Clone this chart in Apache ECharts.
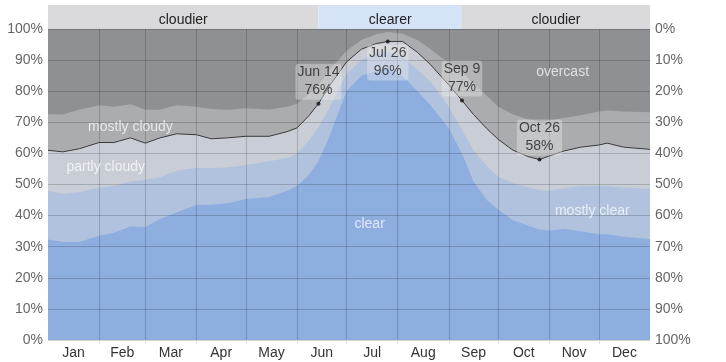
<!DOCTYPE html>
<html><head><meta charset="utf-8">
<script src="https://cdn.jsdelivr.net/npm/echarts@6/dist/echarts.min.js"></script>
<style>html,body{margin:0;padding:0;background:#fff}#c{width:726px;height:362px}</style>
</head><body><div id="c"></div>
<script>
// day of year (Jan 1 = 0)
const days         = [0,   9,   19,  31,  40,  50,  59,  68,  78,  90,  99,  109, 120, 134, 145, 151, 158, 164, 171, 181, 190, 199, 206, 215, 224, 232, 243, 251, 258, 266, 273, 282, 291, 298, 304, 313, 323, 334, 339, 349, 365];
// % of time in each cloud-cover category
const clear        = [32.3,31.5,31.5,33.5,34.5,36.5,36.3,39,  41,  43.5,43.5,44,  45.3,46,  48,  49.5,53,  57.5,66,  80,  85,  86.5,87,  85,  80,  75.5,68,  60,  51,  45,  42,  38.5,36.8,35.5,35.2,35.7,35,  34,  34,  33.2,32.5];
const mostlyClear  = [15.7,15.5,16,  15.5,15,  14.5,15.2,13.3,13.5,11.8,11.8,11.5,11,  11.5,10.5,10.5,11,  11,  9,   5.5, 5,   5.5, 5.5, 6,   7,   7.5, 7,   7.5, 10,  11,  10.5,12,  12.2,12.7,12.8,13.1,14.5,15.5,15.5,15.8,16.1];
const partlyCloudy = [13,  13.5,14,  14.5,14,  14,  11.8,12.7,11.8,10.7,9.4, 9.5, 9.2, 8,   8.5, 8.2, 8,   7.5, 7,   3.9, 3.5, 3.3, 3.5, 5,   5.5, 5.5, 7,   9.5, 11.5,12,  12,  10.5,10,  9.8, 11.2,12,  12.5,13.2,13.8,13,  12.7];
const mostlyCloudy = [11.6,12,  12.5,12,  11.5,10.8,10.7,9,   9.2, 9,   9.6, 9,   9,   8.6, 8,   7.8, 7,   6,   5,   3.6, 3,   3,   3,   2.5, 4,   5,   7,   9,   10,  10.5,10.5,11.5,12,  12.2,11.3,10.7,10.3,10.8,10.5,11.5,11.9];
const overcast     = [27.4,27.5,26,  24.5,25,  24.2,26,  26,  24.5,25,  25.7,26,  25.5,25.9,25,  24,  21,  18,  13,  7,   3.5, 1.7, 1,   1.5, 3.5, 6.5, 11,  14,  17.5,21.5,25,  27.5,29,  29.8,29.5,28.5,27.7,26.5,26.2,26.5,26.8];

const monthNames  = ['Jan','Feb','Mar','Apr','May','Jun','Jul','Aug','Sep','Oct','Nov','Dec'];
const monthStarts = [0,31,59,90,120,151,181,212,243,273,304,334,365];
const leftTicks   = ['0%','10%','20%','30%','40%','50%','60%','70%','80%','90%','100%'];

const seasonStarts = [0,164,251];
const seasonEnds   = [164,251,365];
const seasonLabels = ['cloudier','clearer','cloudier'];

const annDays  = [164,206,251,298];
const annText  = ['Jun 14','Jul 26','Sep 9','Oct 26'];
const annPos   = ['top','bottom','top','top'];

const areaLabelDays = [312, 50, 35, 195, 330];
const areaLabelPcts = [86, 68.5, 55.6, 37.3, 41.5];
const areaLabelText = ['overcast','mostly cloudy','partly cloudy','clear','mostly clear'];

const FONT = 'Arial, "Liberation Sans", sans-serif';
const layers = [clear, mostlyClear, partlyCloudy, mostlyCloudy, overcast];
// cumulative tops of each layer
const cum = layers.map((_,k)=>days.map((d,i)=>{let s=0; for(let j=0;j<=k;j++) s+=layers[j][i]; return +s.toFixed(2);}));
const lineVals = cum[2];
const monthMids = monthNames.map((m,i)=>(monthStarts[i]+monthStarts[i+1])/2);

const layerColors = ['#8eaee0','#b1c2de','#c9ced6','#abacaf','#8f9094'];
const areaSeriesList = [4,3,2,1,0].map((k)=>({type:'line', data: days.map((d,i)=>[d, cum[k][i]]),
    symbol:'none', lineStyle:{width:0}, areaStyle:{color: layerColors[k], opacity:1, origin:'start'}, z:2, silent:true}));

const chart = echarts.init(document.getElementById('c'), null, {renderer:'canvas'});
chart.setOption({
  animation:false,
  backgroundColor:'#fff',
  grid:[
    {left:48, right:76, top:29, bottom:22},
    {left:48, right:76, top:5, height:24}
  ],
  xAxis:[
    {type:'value', gridIndex:0, min:0, max:365, z:3,
      axisLine:{show:false},
      axisTick:{show:true, customValues: monthStarts.slice(1,12), length:4, lineStyle:{color:'#e2e2e2'}},
      splitLine:{show:true, lineStyle:{color:'rgba(0,0,0,0.18)', width:1}},
      axisLabel:{customValues: monthMids, color:'#333', fontSize:14, fontFamily:FONT, margin:6,
        formatter:(v)=>{const i=monthMids.indexOf(v); return i>=0?monthNames[i]:'';}}
    },
    {type:'value', gridIndex:1, min:0, max:365, show:false}
  ],
  yAxis:[
    {type:'value', gridIndex:0, min:0, max:100, interval:10, z:3, position:'left',
      axisLine:{show:false}, axisTick:{show:false},
      splitLine:{show:true, lineStyle:{color:'rgba(0,0,0,0.18)', width:1}},
      axisLabel:{color:'#666', fontSize:14, fontFamily:FONT, margin:5, formatter:(v)=>leftTicks[Math.round(v/10)]}
    },
    {type:'value', gridIndex:0, min:0, max:100, interval:10, inverse:true, position:'right',
      axisLine:{show:false}, axisTick:{show:false}, splitLine:{show:false},
      axisLabel:{color:'#666', fontSize:14, fontFamily:FONT, margin:5, formatter:(v)=>leftTicks[Math.round(v/10)]}
    },
    {type:'value', gridIndex:1, min:0, max:1, show:false}
  ],
  series:[
    ...areaSeriesList,
    {type:'line', data: days.map((d,i)=>[d, lineVals[i]]), symbol:'none',
      lineStyle:{color:'#3a3a3a', width:1}, z:4, silent:true},
    {type:'scatter', data: areaLabelDays.map((d,i)=>[d, areaLabelPcts[i]]), symbolSize:0, z:5, silent:true,
      label:{show:true, position:'inside', color:'rgba(255,255,255,0.9)', fontSize:14, fontFamily:FONT,
        formatter:(p)=>areaLabelText[p.dataIndex]}},
    {type:'scatter', data: annDays.map((d,i)=>({value:[d, lineVals[days.indexOf(d)]],
        label:{position: annPos[i], distance: annPos[i]==='top' ? 2 : 1}})),
      symbol:'circle', symbolSize:4, itemStyle:{color:'#111'}, z:6, silent:true,
      label:{show:true, color:'#222', fontSize:14, fontFamily:FONT, lineHeight:18, align:'center',
        backgroundColor:'rgba(235,235,235,0.5)', borderRadius:3, padding:[0,2],
        formatter:(p)=>annText[p.dataIndex]+'\n'+Math.round(p.value[1])+'%'}},
    {type:'custom', xAxisIndex:1, yAxisIndex:2, z:2, silent:true,
      data: seasonStarts.map((s,i)=>[s, seasonEnds[i], i]),
      encode:{x:[0,1]},
      renderItem:(params, api)=>{
        const i = api.value(2);
        const p0 = api.coord([api.value(0), 1]);
        const p1 = api.coord([api.value(1), 0]);
        return {type:'group', children:[
          {type:'rect', shape:{x:p0[0], y:p0[1], width:p1[0]-p0[0], height:p1[1]-p0[1]},
            style:{fill: seasonLabels[i]==='clearer' ? '#d5e3f6' : '#dadadd'}},
          {type:'text', style:{text: seasonLabels[i], x:(p0[0]+p1[0])/2, y:(p0[1]+p1[1])/2+3,
            align:'center', verticalAlign:'middle', textAlign:'center', textVerticalAlign:'middle',
            fill:'#222', fontSize:14, fontFamily:FONT}}
        ]};
      }}
  ]
});
</script></body></html>
